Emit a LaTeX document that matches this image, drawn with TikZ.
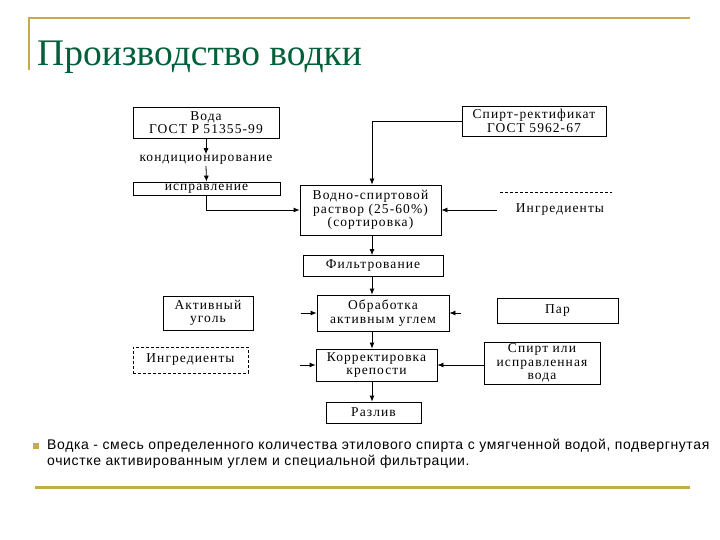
\documentclass[tikz,border=0pt]{standalone}
\usepackage{fontspec}
\setmainfont{Liberation Serif}
\newfontfamily\schemefont[LetterSpace=8]{Liberation Serif}
\newfontfamily\notefont[LetterSpace=4.5]{Liberation Sans}
\usetikzlibrary{positioning,arrows.meta,calc}
\definecolor{gold}{HTML}{C4AC48}
\definecolor{titlegreen}{HTML}{00603A}
\begin{document}
\begin{tikzpicture}[x=1pt,y=-1pt,
      stage/.style={rectangle, draw=black, line width=0.8pt, align=center, inner sep=1pt, font=\schemefont\fontsize{13.5}{13.5}\selectfont},
      input/.style={stage, densely dashed},
      plain/.style={align=center, inner sep=1pt, font=\schemefont\fontsize{13.5}{13.5}\selectfont},
      arr/.style={-{Latex[length=6pt,width=5pt]}, line width=0.8pt},
      ]
      \useasboundingbox (0,0) rectangle (720,540);

      % frame of the slide
      \draw[gold, line width=1.5pt] (29,70) -- (29,18) -- (690,18);
      \draw[gold, line width=3pt] (35,487) -- (690,487);
      \node[anchor=base west, inner sep=0pt, text=titlegreen, font=\fontsize{37.5}{37.5}\selectfont] (title) at (37,66) {Производство водки};

      \node[stage, minimum width=146pt, minimum height=31pt] (voda) at (206,122.5) {Вода\\ГОСТ Р 51355-99};
      \node[plain] (kond) at (206,160) {кондиционирование};
      \node[stage, minimum width=147pt, minimum height=13pt, inner sep=0pt] (ispr) at (206.5,188.5) {исправление};
      \node[stage, minimum width=141pt, minimum height=50pt] (vodno) at (370.5,210) {Водно-спиртовой\\раствор (25-60\%)\\(сортировка)};
      \node[stage, minimum width=144pt, minimum height=30pt] (spirt) at (534,121) {Спирт-ректификат\\ГОСТ 5962-67};
      \node[plain] (ingrR) at (560,210) {Ингредиенты};
      \node[stage, minimum width=140pt, minimum height=21pt] (filtr) at (373,266) {Фильтрование};
      \node[stage, minimum width=132pt, minimum height=36pt] (obrab) at (383,313) {Обработка\\активным углем};
      \node[stage, minimum width=121pt, minimum height=32pt] (korr) at (376.5,365) {Корректировка\\крепости};
      \node[stage, minimum width=95pt, minimum height=21pt] (razliv) at (373.5,412.5) {Разлив};

      \node[stage, minimum width=90pt, minimum height=34pt] (ugol) at (208,313) {Активный\\уголь};
      \node[input, minimum width=115pt, minimum height=26pt] (ingrL) at (190.5,360) {Ингредиенты};
      \node[stage, minimum width=121pt, minimum height=25pt] (par) at (557.5,310.5) {Пар};
      \node[stage, minimum width=116pt, minimum height=42pt] (spvoda) at (542,363) {Спирт или\\исправленная\\вода};

      \coordinate (axis) at (372,0);
      \draw[arr] (voda.south) -- (kond.north);
      \draw[arr] (kond.south) -- (ispr.north);
      \draw[arr] (ispr.south) |- (vodno.west);
      \draw[arr] (spirt.west) -| (vodno.north -| axis);
      \draw[densely dashed, line width=0.8pt] (500,192) -- (612,192);
      \draw[arr] ([xshift=-18pt]ingrR.west) -- (vodno.east);
      \draw[arr] (vodno.south -| axis) -- (filtr.north -| axis);
      \draw[arr] (filtr.south -| axis) -- (obrab.north -| axis);
      \draw[arr] (obrab.south -| axis) -- (korr.north -| axis);
      \draw[arr] (korr.south -| axis) -- (razliv.north -| axis);
      \draw[arr] ([xshift=-16pt]obrab.west) -- (obrab.west);
      \draw[arr] ([xshift=12pt]obrab.east) -- (obrab.east);
      \draw[arr] ([xshift=-16pt]korr.west) -- (korr.west);
      \draw[arr] (spvoda.west |- korr.east) -- (korr.east);

      % note under the scheme
      \fill[gold] (33,443) rectangle (39,449);
      \node[anchor=north west, inner sep=0pt, align=left, font=\notefont\fontsize{14}{16}\selectfont] (note) at (47,439)
        {Водка - смесь определенного количества этилового спирта с умягченной водой, подвергнутая\\очистке активированным углем и специальной фильтрации.};
\end{tikzpicture}
\end{document}
